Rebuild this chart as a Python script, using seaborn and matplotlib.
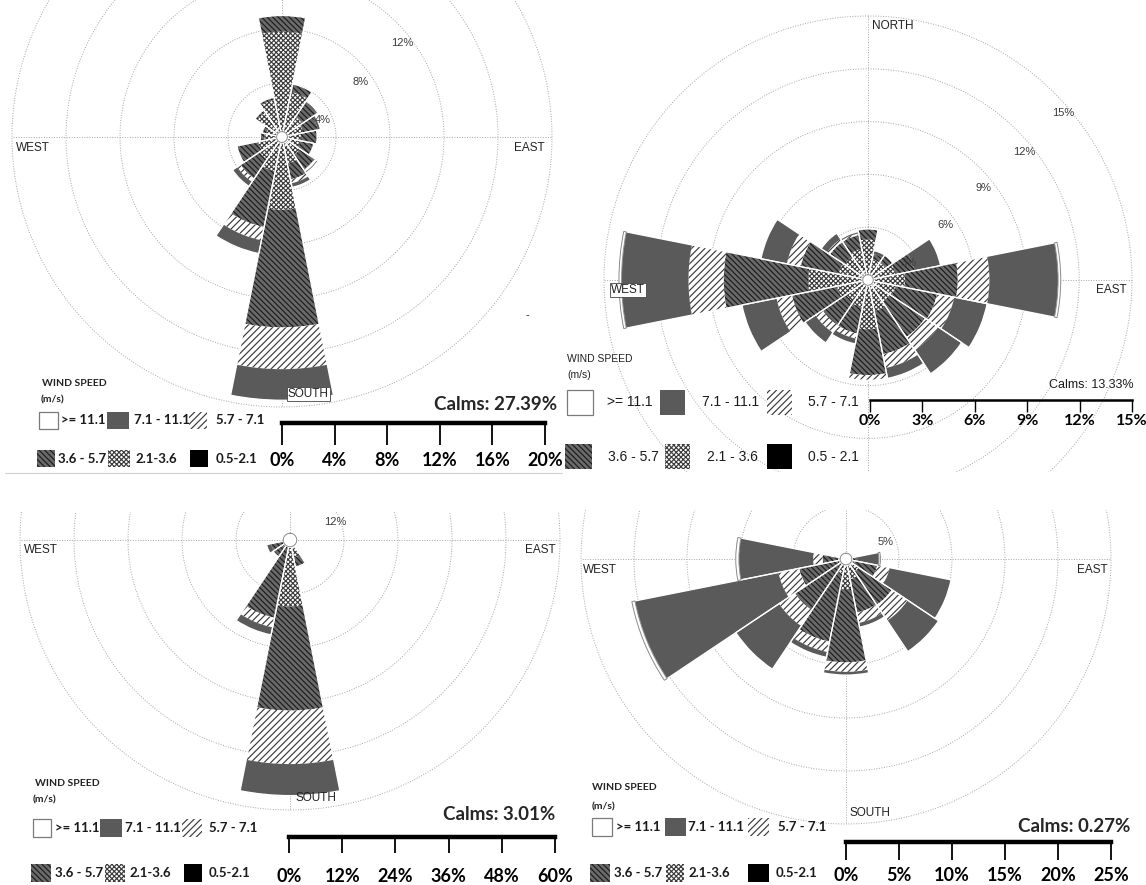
import numpy as np
import matplotlib
matplotlib.use('Agg')
import matplotlib.pyplot as plt
import seaborn as sns
from matplotlib.patches import Rectangle
from matplotlib.lines import Line2D

sns.set_style('white')
plt.rcParams['font.family'] = ['Liberation Sans', 'DejaVu Sans']
plt.rcParams['hatch.linewidth'] = 0.85

W, H = 1146, 885

directions = ['N', 'NNE', 'NE', 'ENE', 'E', 'ESE', 'SE', 'SSE',
              'S', 'SSW', 'SW', 'WSW', 'W', 'WNW', 'NW', 'NNW']
speed_bins = ['0.5-2.1', '2.1-3.6', '3.6-5.7', '5.7-7.1', '7.1-11.1', '>=11.1']

# frequency (%) per direction, columns in the order of speed_bins
rose_a = [
    [0, 7.4, 1.2, 0.0, 0.0, 0],
    [0, 3.0, 0.6, 0.0, 0.0, 0],
    [0, 1.4, 1.4, 0.0, 0.0, 0],
    [0, 1.2, 1.1, 0.0, 0.2, 0],
    [0, 1.0, 1.2, 0.0, 0.0, 0],
    [0, 1.0, 1.0, 0.0, 0.0, 0],
    [0, 1.2, 1.3, 0.2, 0.1, 0],
    [0, 1.6, 1.2, 0.3, 0.3, 0],
    [0, 5.0, 8.7, 3.1, 2.3, 0],
    [0, 2.2, 4.2, 1.0, 1.0, 0],
    [0, 1.6, 1.7, 0.3, 0.4, 0],
    [0, 1.4, 1.6, 0.0, 0.0, 0],
    [0, 0.9, 0.3, 0.0, 0.0, 0],
    [0, 0.8, 0.3, 0.0, 0.0, 0],
    [0, 1.8, 0.2, 0.0, 0.0, 0],
    [0, 2.4, 0.2, 0.0, 0.0, 0],
]
rose_b = [
    [0, 2.0, 0.6, 0.0, 0.0, 0],
    [0, 0.9, 0.3, 0.0, 0.2, 0],
    [0, 0.9, 0.5, 0.0, 0.0, 0],
    [0, 1.3, 1.1, 0.0, 1.5, 0],
    [0, 1.8, 3.0, 1.8, 3.9, 0.15],
    [0, 1.3, 2.4, 1.0, 1.9, 0],
    [0, 1.2, 2.4, 0.9, 1.6, 0],
    [0, 1.5, 2.5, 0.8, 0.6, 0],
    [0, 2.5, 2.6, 0.3, 0.0, 0],
    [0, 1.3, 1.5, 0.3, 0.3, 0],
    [0, 1.2, 1.6, 0.5, 0.7, 0],
    [0, 1.5, 2.6, 0.9, 2.0, 0],
    [0, 3.1, 4.8, 2.0, 3.8, 0.15],
    [0, 1.4, 2.2, 0.8, 1.5, 0],
    [0, 1.3, 1.0, 0.2, 0.4, 0],
    [0, 1.5, 0.8, 0.1, 0.1, 0],
]
rose_c = [
    [0, 0.0, 0.0, 0.0, 0.0, 0],
    [0, 0.0, 0.0, 0.0, 0.0, 0],
    [0, 0.0, 0.0, 0.0, 0.0, 0],
    [0, 0.0, 0.0, 0.0, 0.0, 0],
    [0, 0.0, 0.0, 0.0, 0.0, 0],
    [0, 0.0, 0.0, 0.0, 0.0, 0],
    [0, 0.0, 0.0, 0.0, 0.0, 0],
    [0, 2.5, 2.1, 0.0, 0.0, 0],
    [0, 13.3, 23.1, 11.9, 7.0, 0],
    [0, 0.0, 16.1, 2.2, 1.7, 0],
    [0, 0.5, 2.5, 0.0, 0.0, 0],
    [0, 0.0, 2.8, 0.0, 1.0, 0],
    [0, 0.0, 0.0, 0.0, 0.0, 0],
    [0, 0.0, 0.0, 0.0, 0.0, 0],
    [0, 0.0, 0.0, 0.0, 0.0, 0],
    [0, 0.0, 0.0, 0.0, 0.0, 0],
]
rose_d = [
    [0, 0.0, 0.0, 0.0, 0.0, 0],
    [0, 0.0, 0.0, 0.0, 0.0, 0],
    [0, 0.0, 0.0, 0.0, 0.0, 0],
    [0, 0.0, 0.0, 0.0, 0.0, 0],
    [0, 0.0, 0.5, 0.0, 2.05, 0.15],
    [0, 0.3, 2.15, 1.2, 5.9, 0],
    [0, 0.9, 3.75, 1.8, 3.5, 0],
    [0, 1.4, 3.2, 1.0, 0.4, 0],
    [0, 2.3, 6.9, 0.9, 0.3, 0],
    [0, 0.9, 6.5, 1.0, 0.5, 0],
    [0, 0.4, 4.85, 1.8, 4.9, 0],
    [0, 0.3, 3.65, 2.0, 13.8, 0.3],
    [0, 0.2, 1.45, 0.9, 7.0, 0.3],
    [0, 0.0, 0.0, 0.0, 0.0, 0],
    [0, 0.0, 0.0, 0.0, 0.0, 0],
    [0, 0.0, 0.0, 0.0, 0.0, 0],
]

calms = ['Calms: 27.39%', 'Calms: 13.33%', 'Calms: 3.01%', 'Calms: 0.27%']
rings_a = [4, 8, 12, 16, 20]
rings_b = [3, 6, 9, 12, 15]
rings_c = [12, 24, 36, 48, 60]
rings_d = [5, 10, 15, 20, 25]
legend_a = ['>= 11.1', '7.1 - 11.1', '5.7 - 7.1', '3.6 - 5.7', '2.1-3.6', '0.5-2.1']
legend_b = ['>= 11.1', '7.1 - 11.1', '5.7 - 7.1', '3.6 - 5.7', '2.1 - 3.6', '0.5 - 2.1']

# look of each speed bin (same order as speed_bins)
face = ['black', 'white', '#6a6a6a', 'white', '#5a5a5a', 'white']
hatch = [None, 'xxxxxxx', '\\' * 6, '/////', None, None]
hatch_col = ['black', '#3c3c3c', '#1c1c1c', '#3a3a3a', '#5a5a5a', '#8a8a8a']

LATO = ['Lato', 'DejaVu Sans']
GRID = dict(color='#a5a5a5', lw=0.7, ls=(0, (1, 1.6)))

fig = plt.figure(figsize=(W / 100, H / 100), dpi=100)


def fx(x):
    return x / W


def fy(y):
    return 1 - y / H


def draw_rose(data, center, scale, rings, clip_box, hole, ring_labels):
    cx, cy = center
    rmax = rings[-1]
    rad = rmax * scale
    ax = fig.add_axes([fx(cx - rad), fy(cy + rad), 2 * rad / W, 2 * rad / H], projection='polar')
    ax.set_theta_zero_location('N')
    ax.set_theta_direction(-1)
    ax.axis('off')
    x0, y0, x1, y1 = clip_box
    clip = Rectangle((fx(x0), fy(y1)), (x1 - x0) / W, (y1 - y0) / H, transform=fig.transFigure)

    circle = np.linspace(0, 2 * np.pi, 400)
    for r in rings:
        ax.plot(circle, np.full_like(circle, r), zorder=1, **GRID)
    for t in np.arange(4) * np.pi / 2:
        ax.plot([t, t], [0, rmax], zorder=1, **GRID)

    vals = np.array(data, dtype=float)
    n = len(directions)
    theta = np.arange(n) * 2 * np.pi / n
    width = 2 * np.pi / n
    base = np.full(n, hole)
    for j in range(len(speed_bins)):
        m = vals[:, j] > 0
        last = j == len(speed_bins) - 1
        if m.any():
            ax.bar(theta[m], vals[m, j], width=width, bottom=base[m], color=face[j],
                   edgecolor=hatch_col[j], linewidth=0.7 if last else 0, hatch=hatch[j],
                   zorder=3 if last else 2)
        base = base + vals[:, j]
    m = base > hole
    ax.bar(theta[m], base[m] - hole, width=width, bottom=hole, fill=False,
           edgecolor='white', linewidth=0.9, zorder=2.5)
    ax.fill_between(circle, 0, hole, color='white', zorder=3.5)
    ax.plot(circle, np.full_like(circle, hole), color='#8c8c8c', lw=0.7, zorder=4)
    ax.set_ylim(0, rmax)
    for art in list(ax.patches) + list(ax.lines):
        art.set_clip_path(clip)
    for text, deg, r in ring_labels:
        ax.text(np.deg2rad(deg), r, text, ha='center', va='center', fontsize=8, color='#3a3a3a')
    return ax


def draw_legend(title_xy, units_xy, rows_y, box_h, boxes, text_x, labels, fam, size, bold, title_fam, title_bold):
    tw = 'bold' if title_bold else 'normal'
    fig.text(fx(title_xy[0]), fy(title_xy[1]), 'WIND SPEED', ha='left', va='center',
             fontsize=7.5, fontweight=tw, family=title_fam, color='#222222')
    fig.text(fx(units_xy[0]), fy(units_xy[1]), '(m/s)', ha='left', va='center',
             fontsize=7.5, fontweight=tw, family=title_fam, color='#222222')
    for i, lab in enumerate(labels):
        j = len(speed_bins) - 1 - i
        yc = rows_y[i // 3]
        bx, bw = boxes[i]
        if j == len(speed_bins) - 1:
            ec, lw = '#7a7a7a', 0.9
        else:
            ec, lw = hatch_col[j], 0
        fig.add_artist(Rectangle((fx(bx), fy(yc + box_h / 2)), bw / W, box_h / H,
                                 transform=fig.transFigure, facecolor=face[j], edgecolor=ec,
                                 linewidth=lw, hatch=hatch[j]))
        fig.text(fx(text_x[i]), fy(yc), lab, ha='left', va='center', fontsize=size,
                 fontweight='bold' if bold else 'normal', family=fam, color='#1a1a1a')


def draw_scale(x0, x1, y_top, tick_len, ticks, pad, bar_lw, tick_lw, size):
    sax = fig.add_axes([fx(x0), fy(y_top + tick_len), (x1 - x0) / W, tick_len / H])
    sax.set_xlim(ticks[0], ticks[-1])
    sax.set_ylim(0, 1)
    for side in ['left', 'right', 'bottom']:
        sax.spines[side].set_visible(False)
    sax.spines['top'].set_linewidth(bar_lw)
    sax.spines['top'].set_color('black')
    sax.patch.set_visible(False)
    sax.set_yticks([])
    sax.set_xticks(ticks)
    sax.set_xticklabels([f'{t}%' for t in ticks], fontsize=size, fontweight='bold', family=LATO)
    sax.tick_params(axis='x', direction='in', top=True, bottom=False, labelbottom=True,
                    labeltop=False, length=tick_len * 0.72, width=tick_lw, pad=pad, colors='black')


def label(x, y, s, boxed=False, size=8.5):
    kw = {}
    if boxed:
        kw['bbox'] = dict(boxstyle='square,pad=0.12', fc='white', ec='#444444', lw=0.6)
    fig.text(fx(x), fy(y), s, ha='left', va='center', fontsize=size, color='#222222', **kw)


# ---- panel A (top left)
draw_rose(rose_a, (282, 137), 13.5, rings_a, (0, 0, 562, 472), 0.4,
          [('4%', 67, 3.3), ('8%', 55, 7.1), ('12%', 52, 11.3)])
label(16, 148, 'WEST')
label(514, 148, 'EAST')
label(288, 394, 'SOUTH', boxed=True)
fig.text(fx(525), fy(318), '-', fontsize=8, color='#222222')
draw_legend((42, 383), (41, 400), (420, 459), 17, [(39, 19), (107, 22), (189, 18), (37, 18), (108, 22), (190, 18)],
            [61, 134, 216, 58, 135, 216], legend_a, LATO, 9.5, True, LATO, True)
fig.text(fx(557), fy(405), calms[0], ha='right', va='center', fontsize=13.5, fontweight='bold', family=LATO)
draw_scale(282, 545, 423, 22, [0] + rings_a, 5, 3.2, 1.3, 13)
fig.add_artist(Line2D([fx(5), fx(562)], [fy(473), fy(473)], color='#d0d0d0', lw=0.8))

# ---- panel B (top right)
draw_rose(rose_b, (868, 280), 17.6, rings_b, (562, 0, 1146, 472), 0.3,
          [('3%', 67, 2.5), ('6%', 54.5, 5.4), ('9%', 51.6, 8.4), ('12%', 50.6, 11.5), ('15%', 49.4, 14.6)])
label(872, 26, 'NORTH')
label(611, 290, 'WEST', boxed=True)
label(1096, 290, 'EAST')
draw_legend((567, 359), (567, 375), (402, 457), 25, [(567, 26), (660, 25), (767, 25), (565, 27), (665, 25), (767, 25)],
            [607, 702, 808, 608, 707, 808], legend_b, ['Liberation Sans', 'DejaVu Sans'], 10, False,
            ['Liberation Sans', 'DejaVu Sans'], False)
fig.text(fx(1134), fy(385), calms[1], ha='right', va='center', fontsize=9, color='#1a1a1a')
draw_scale(870, 1132, 400, 12, [0] + rings_b, 1.5, 1.8, 1.0, 11.5)

# ---- panel C (bottom left)
draw_rose(rose_c, (290, 540), 4.5, rings_c, (0, 512, 566, 885), 1.5,
          [('12%', 68, 10.8)])
label(24, 550, 'WEST')
label(525, 550, 'EAST')
label(296, 798, 'SOUTH')
draw_legend((35, 783), (33, 800), (828, 873), 18, [(33, 18), (100, 22), (182, 20), (31, 20), (105, 20), (184, 18)],
            [55, 125, 209, 55, 129, 209], legend_a, LATO, 9.5, True, LATO, True)
fig.text(fx(555), fy(815), calms[2], ha='right', va='center', fontsize=13.5, fontweight='bold', family=LATO)
draw_scale(289, 555, 837, 16, [0] + rings_c, 11, 3.2, 1.3, 13)

# ---- panel D (bottom right)
draw_rose(rose_d, (846, 559), 10.6, rings_d, (572, 510, 1146, 885), 0.55,
          [('5%', 67, 4.1)])
label(583, 570, 'WEST')
label(1077, 570, 'EAST')
label(849, 813, 'SOUTH')
draw_legend((592, 788), (592, 807), (827, 873), 18, [(592, 20), (665, 21), (748, 21), (590, 20), (666, 18), (748, 21)],
            [616, 688, 778, 614, 688, 776], legend_a, LATO, 9.5, True, LATO, True)
fig.text(fx(1130), fy(827), calms[3], ha='right', va='center', fontsize=13.5, fontweight='bold', family=LATO)
draw_scale(846, 1111, 842, 18, [0] + rings_d, 5, 3.2, 1.3, 13)

fig.savefig('out.png', dpi=100)
